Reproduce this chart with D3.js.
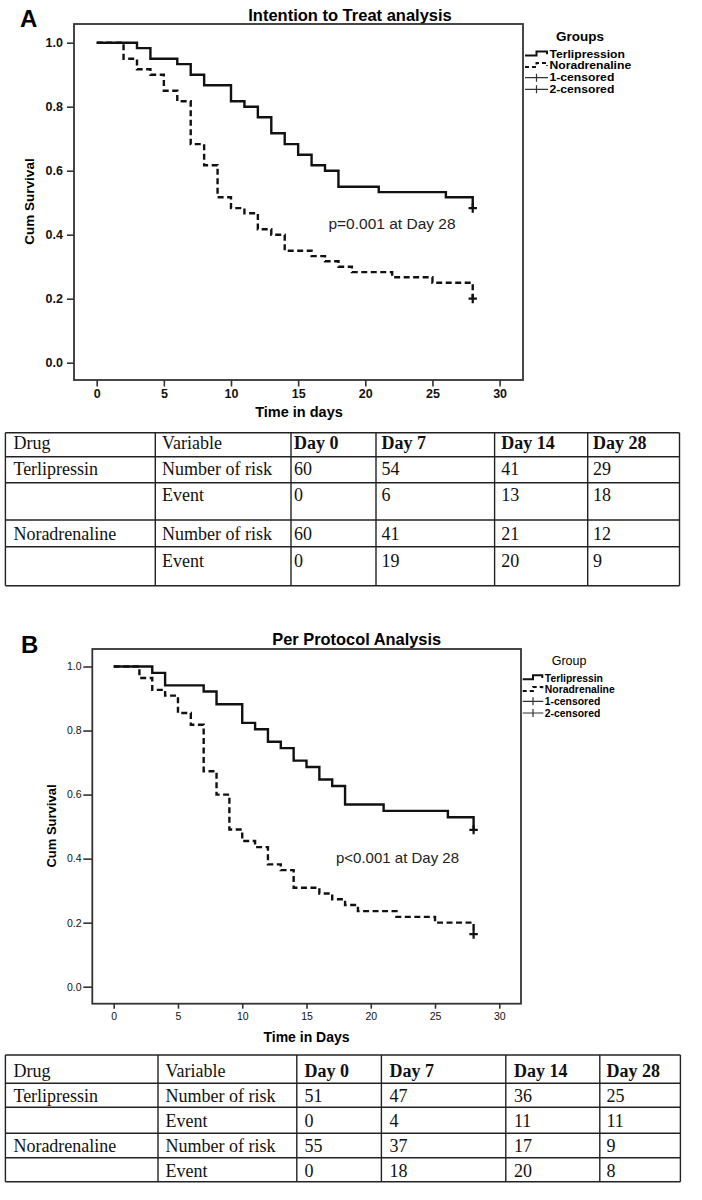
<!DOCTYPE html>
<html><head><meta charset="utf-8">
<script src="https://cdn.jsdelivr.net/npm/d3@7"></script>
<style>body{margin:0;background:#fff} svg{display:block}</style>
</head><body>
<svg id="chart" width="702" height="1200"></svg>
<script>
// ---------------- DATA ----------------
const dayTicks = [0, 5, 10, 15, 20, 25, 30];
const survTicks = [0.0, 0.2, 0.4, 0.6, 0.8, 1.0];

// Panel A – Intention to Treat analysis
const terliA_time = [0, 3, 4, 6, 7, 8, 10, 11, 12, 13, 14, 15, 16, 17, 18, 21, 26, 28];
const terliA_surv = [1.0, 0.983, 0.95, 0.933, 0.9, 0.867, 0.817, 0.8, 0.767, 0.717, 0.683, 0.65, 0.617, 0.6, 0.55, 0.533, 0.517, 0.483];
const noraA_time = [0, 2, 3, 4, 5, 6, 7, 8, 9, 10, 11, 12, 13, 14, 16, 17, 18, 19, 22, 25, 28];
const noraA_surv = [1.0, 0.95, 0.917, 0.9, 0.85, 0.817, 0.683, 0.617, 0.517, 0.483, 0.467, 0.417, 0.4, 0.35, 0.333, 0.317, 0.3, 0.283, 0.267, 0.25, 0.2];

// Panel B – Per Protocol Analysis
const terliB_time = [0, 3, 4, 7, 8, 10, 11, 12, 13, 14, 15, 16, 17, 18, 21, 26, 28];
const terliB_surv = [1.0, 0.98, 0.941, 0.922, 0.882, 0.824, 0.804, 0.765, 0.745, 0.706, 0.686, 0.647, 0.627, 0.569, 0.549, 0.529, 0.49];
const noraB_time = [0, 2, 3, 4, 5, 6, 7, 8, 9, 10, 11, 12, 13, 14, 16, 17, 18, 19, 22, 25, 28];
const noraB_surv = [1.0, 0.964, 0.927, 0.909, 0.855, 0.818, 0.673, 0.6, 0.491, 0.455, 0.436, 0.382, 0.364, 0.309, 0.291, 0.273, 0.255, 0.236, 0.218, 0.2, 0.164];

const legendA_labels = ["Terlipression", "Noradrenaline", "1-censored", "2-censored"];
const legendB_labels = ["Terlipressin", "Noradrenaline", "1-censored", "2-censored"];
const legendTypes = ["solid", "dashed", "censor", "censor"];

// Tables
const tableHeader = ["Drug", "Variable", "Day 0", "Day 7", "Day 14", "Day 28"];
const tableDrugs = ["Terlipressin", "", "Noradrenaline", ""];
const tableVars = ["Number of risk", "Event", "Number of risk", "Event"];
const tableA_day0 = [60, 0, 60, 0];
const tableA_day7 = [54, 6, 41, 19];
const tableA_day14 = [41, 13, 21, 20];
const tableA_day28 = [29, 18, 12, 9];
const tableB_day0 = [51, 0, 55, 0];
const tableB_day7 = [47, 4, 37, 18];
const tableB_day14 = [36, 11, 17, 20];
const tableB_day28 = [25, 11, 9, 8];

// ---------------- DRAWING ----------------
const svg = d3.select("#chart");
svg.append("rect").attr("width", 702).attr("height", 1200).attr("fill", "#fff");
const SANS = "'Liberation Sans', Arial, Helvetica, sans-serif";
const SERIF = "'Liberation Serif', 'Times New Roman', serif";

function drawPanel(cfg) {
  const g = svg.append("g");
  const x = d3.scaleLinear().domain([0, 30]).range(cfg.xr);
  const y = d3.scaleLinear().domain([0, 1]).range(cfg.yr);

  // panel letter
  g.append("text").attr("x", cfg.letterX).attr("y", cfg.letterY)
    .attr("font-family", SANS).attr("font-weight", "bold").attr("font-size", 24)
    .text(cfg.letter);
  // title
  g.append("text").attr("x", cfg.titleX).attr("y", cfg.titleY).attr("text-anchor", "middle")
    .attr("font-family", SANS).attr("font-weight", "bold").attr("font-size", cfg.titleSize)
    .text(cfg.title);

  // frame
  g.append("rect").attr("x", cfg.frame[0]).attr("y", cfg.frame[1])
    .attr("width", cfg.frame[2] - cfg.frame[0]).attr("height", cfg.frame[3] - cfg.frame[1])
    .attr("fill", "none").attr("stroke", "#333").attr("stroke-width", 1.8);

  // y axis
  const ya = g.append("g").attr("transform", `translate(${cfg.frame[0]},0)`)
    .call(d3.axisLeft(y).tickValues(survTicks).tickFormat(d3.format(".1f"))
      .tickSize(cfg.yTick).tickPadding(cfg.yPad));
  ya.select(".domain").remove();
  ya.selectAll(".tick line").attr("stroke", "#333").attr("stroke-width", 1.6);
  ya.selectAll(".tick text").attr("font-family", SANS).attr("font-size", cfg.tickSize)
    .attr("font-weight", cfg.tickWeight).attr("fill", "#111");

  // x axis
  const xa = g.append("g").attr("transform", `translate(0,${cfg.frame[3]})`)
    .call(d3.axisBottom(x).tickValues(dayTicks).tickFormat(d3.format("d"))
      .tickSize(cfg.xTick).tickPadding(cfg.xPad));
  xa.select(".domain").remove();
  xa.selectAll(".tick line").attr("stroke", "#333").attr("stroke-width", 1.6);
  xa.selectAll(".tick text").attr("font-family", SANS).attr("font-size", cfg.tickSize)
    .attr("font-weight", cfg.tickWeight).attr("fill", "#111");

  // axis titles
  g.append("text").attr("x", cfg.xTitleX).attr("y", cfg.xTitleY).attr("text-anchor", "middle")
    .attr("font-family", SANS).attr("font-weight", "bold").attr("font-size", cfg.xTitleSize)
    .text(cfg.xTitle);
  g.append("text").attr("transform", `translate(${cfg.yTitleX},${cfg.yTitleY}) rotate(-90)`)
    .attr("text-anchor", "middle")
    .attr("font-family", SANS).attr("font-weight", "bold").attr("font-size", cfg.yTitleSize)
    .text("Cum Survival");

  // curves
  const line = d3.line().x(d => x(d[0])).y(d => y(d[1])).curve(d3.curveStepAfter);
  cfg.curves.forEach(c => {
    const pts = c.time.map((t, i) => [t, c.surv[i]]);
    g.append("path").attr("d", line(pts)).attr("fill", "none")
      .attr("stroke", "#111").attr("stroke-width", 2.4)
      .attr("stroke-dasharray", c.dashed ? "6,3.5" : null);
    const last = pts[pts.length - 1];
    const cx = x(last[0]), cy = y(last[1]);
    g.append("path").attr("d", `M${cx - 4.2},${cy}H${cx + 4.2}M${cx},${cy - 4.5}V${cy + 4.5}`)
      .attr("stroke", "#111").attr("stroke-width", 2.2).attr("fill", "none");
  });

  // p value
  g.append("text").attr("x", cfg.pX).attr("y", cfg.pY).attr("text-anchor", "middle")
    .attr("font-family", SANS).attr("font-size", cfg.pSize).attr("fill", "#222")
    .text(cfg.pText);

  // legend
  g.append("text").attr("x", cfg.legTitleX).attr("y", cfg.legTitleY)
    .attr("font-family", SANS).attr("font-weight", cfg.legTitleWeight).attr("font-size", cfg.legTitleSize)
    .text(cfg.legTitle);
  cfg.legLabels.forEach((lab, i) => {
    const yc = cfg.legY[i];
    const x0 = cfg.legX0, w = cfg.legW;
    if (legendTypes[i] === "censor") {
      g.append("path").attr("d", `M${x0},${yc}H${x0 + w}M${x0 + w / 2},${yc - 4}V${yc + 4}`)
        .attr("stroke", "#333").attr("stroke-width", 1.2).attr("fill", "none");
    } else {
      g.append("path").attr("d", `M${x0},${yc + 1.2}H${x0 + w * 0.5}V${yc - 2.8}H${x0 + w - 1}V${yc}`)
        .attr("stroke", "#111").attr("stroke-width", 2).attr("fill", "none")
        .attr("stroke-dasharray", legendTypes[i] === "dashed" ? "4,3" : null);
    }
    g.append("text")
      .attr("transform", `translate(${x0 + w + 1.5},${yc + cfg.legSize * 0.36}) scale(${cfg.legStretch},1)`)
      .attr("font-family", SANS).attr("font-weight", "bold").attr("font-size", cfg.legSize)
      .text(lab);
  });
}

drawPanel({
  letter: "A", letterX: 20, letterY: 26.5,
  title: "Intention to Treat analysis", titleX: 350, titleY: 20.5, titleSize: 16.5,
  frame: [74, 24, 523, 380], xr: [96.7, 499.6], yr: [362.7, 42.7],
  yTick: 7, yPad: 4, xTick: 6.5, xPad: 2.5, tickSize: 12.5, tickWeight: "bold",
  xTitle: "Time in days", xTitleX: 299, xTitleY: 417.3, xTitleSize: 14.5,
  yTitleX: 33.5, yTitleY: 201.5, yTitleSize: 13.5,
  curves: [{time: terliA_time, surv: terliA_surv, dashed: false},
           {time: noraA_time, surv: noraA_surv, dashed: true}],
  pText: "p=0.001 at Day 28", pX: 392, pY: 229.3, pSize: 15.5,
  legTitle: "Groups", legTitleX: 556, legTitleY: 40.7, legTitleSize: 13.5, legTitleWeight: "bold",
  legLabels: legendA_labels, legY: [54.3, 65.7, 77.7, 89.3], legX0: 525, legW: 23,
  legSize: 10.4, legStretch: 1.17
});

drawPanel({
  letter: "B", letterX: 21, letterY: 653,
  title: "Per Protocol Analysis", titleX: 356.7, titleY: 645, titleSize: 16.4,
  frame: [92.3, 649, 521, 1003.7], xr: [113.7, 499.3], yr: [986.7, 666.5],
  yTick: 9, yPad: 1.8, xTick: 5, xPad: 4.3, tickSize: 10.5, tickWeight: "normal",
  xTitle: "Time in Days", xTitleX: 306.5, xTitleY: 1042, xTitleSize: 14,
  yTitleX: 56, yTitleY: 826, yTitleSize: 13,
  curves: [{time: terliB_time, surv: terliB_surv, dashed: false},
           {time: noraB_time, surv: noraB_surv, dashed: true}],
  pText: "p<0.001 at Day 28", pX: 397.5, pY: 862.7, pSize: 15,
  legTitle: "Group", legTitleX: 551.7, legTitleY: 665, legTitleSize: 12.5, legTitleWeight: "normal",
  legLabels: legendB_labels, legY: [678, 689.7, 701.3, 713], legX0: 522.7, legW: 20.6,
  legSize: 10.2, legStretch: 1.02
});

function drawTable(cfg) {
  const g = svg.append("g");
  const cols = [tableDrugs, tableVars, cfg.d0, cfg.d7, cfg.d14, cfg.d28];
  // grid lines
  const colX = cfg.colX, rowY = cfg.rowY;
  rowY.forEach(yy => g.append("line").attr("x1", colX[0]).attr("x2", colX[colX.length - 1])
    .attr("y1", yy).attr("y2", yy).attr("stroke", "#222").attr("stroke-width", 1.4));
  colX.forEach(xx => g.append("line").attr("x1", xx).attr("x2", xx)
    .attr("y1", rowY[0]).attr("y2", rowY[rowY.length - 1]).attr("stroke", "#222").attr("stroke-width", 1.4));
  // header
  tableHeader.forEach((h, j) => {
    g.append("text").attr("x", cfg.textX[j]).attr("y", cfg.base[0])
      .attr("font-family", SERIF).attr("font-size", 18).attr("fill", "#111")
      .attr("font-weight", j >= 2 ? "bold" : "normal").text(h);
  });
  // body
  for (let r = 0; r < 4; r++) {
    cols.forEach((col, j) => {
      g.append("text").attr("x", cfg.textX[j]).attr("y", cfg.base[r + 1])
        .attr("font-family", SERIF).attr("font-size", 18).attr("fill", "#111")
        .text(col[r]);
    });
  }
}

drawTable({
  d0: tableA_day0, d7: tableA_day7, d14: tableA_day14, d28: tableA_day28,
  colX: [5.4, 155.3, 291, 376, 494.6, 587.7, 679.5],
  rowY: [432.7, 456.7, 482.7, 520, 546.7, 585.7],
  textX: [13.4, 162, 294, 381.4, 501.3, 593],
  base: [448.5, 475, 501, 540, 566.7]
});
drawTable({
  d0: tableB_day0, d7: tableB_day7, d14: tableB_day14, d28: tableB_day28,
  colX: [5.4, 158, 296.8, 381.4, 505.8, 599.8, 680.4],
  rowY: [1055, 1083.3, 1107.3, 1133.3, 1157.7, 1181.7],
  textX: [13.4, 165.6, 304.4, 389.4, 513.9, 606.5],
  base: [1076.7, 1101.7, 1127.3, 1152.3, 1176.7]
});
</script>
</body></html>
